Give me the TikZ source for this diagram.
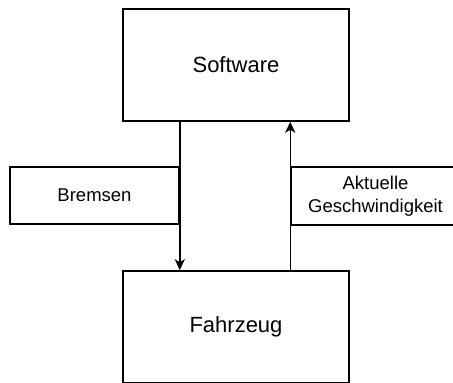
\documentclass[tikz,border=0pt]{standalone}
\usepackage{fontspec}
\setmainfont{Liberation Sans}
\usetikzlibrary{arrows.meta}
\begin{document}
\begin{tikzpicture}[x=1pt,y=-1pt,
  block/.style={draw, line width=1.5pt, minimum width=226pt, minimum height=112pt,
    inner sep=0pt, font=\fontsize{22}{26}\selectfont},
  tag/.style={draw, line width=1.5pt, minimum width=169pt, minimum height=57pt,
    inner sep=0pt, align=center, font=\fontsize{18.5}{23.5}\selectfont},
  flow/.style={line width=1.5pt, -{Stealth[length=11pt,width=10pt,inset=3pt]}}]
\useasboundingbox (0,0) rectangle (453,383);
\clip (0,0) rectangle (453,383);
% signal labels between the two blocks
\node[tag] (brake) at (94.5,195.5) {Bremsen};
\node[tag, minimum height=58pt] (speed) at (375.5,196) {Aktuelle\\Geschwindigkeit};
% main blocks
\node[block] (sw) at (236,65) {Software};
\node[block] (car) at (236,327) {Fahrzeug};
% control loop
\draw[flow] (sw.south -| brake.east) -- (car.north -| brake.east);
\draw[flow] (car.north -| speed.west) -- (sw.south -| speed.west);
\end{tikzpicture}
\end{document}
